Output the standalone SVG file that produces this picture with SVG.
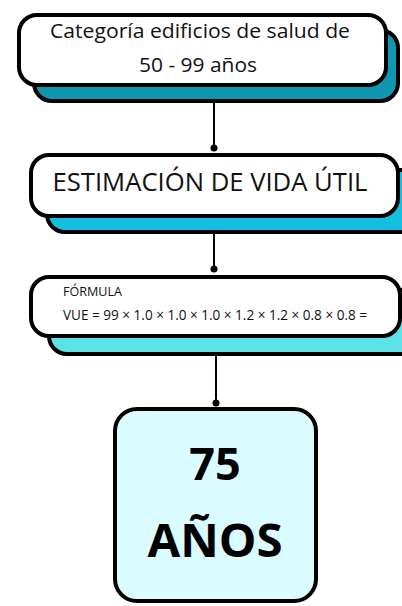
<svg xmlns="http://www.w3.org/2000/svg" width="402" height="606" viewBox="0 0 402 606">
<style>
.box{fill:#ffffff;stroke:#000;stroke-width:4}
.sh{stroke:#000;stroke-width:4}
.t{font-family:"Open Sans","Noto Sans",sans-serif;fill:#111}
.c{stroke:#000;stroke-width:2;fill:none}
</style>
<rect width="402" height="606" fill="#ffffff"/>
<g id="node1">
<rect class="sh" x="34" y="30" width="364" height="71" rx="18" fill="#0E97AE"/>
<rect class="box" x="19" y="15" width="367" height="70" rx="18"/>
<text class="t" x="200" y="38" font-size="20.5" text-anchor="middle" textLength="300" lengthAdjust="spacingAndGlyphs">Categoría edificios de salud de</text>
<text class="t" x="198" y="72" font-size="20.5" text-anchor="middle" textLength="118" lengthAdjust="spacingAndGlyphs">50 - 99 años</text>
</g>
<g id="node2">
<rect class="sh" x="47" y="170" width="380" height="62" rx="18" fill="#12BFDF"/>
<rect class="box" x="31" y="155" width="367" height="61" rx="18"/>
<text class="t" x="210" y="191" font-size="25.5" text-anchor="middle" textLength="315" lengthAdjust="spacingAndGlyphs">ESTIMACIÓN DE VIDA ÚTIL</text>
</g>
<g id="node3">
<rect class="sh" x="49" y="290" width="380" height="64" rx="18" fill="#5CE1E6"/>
<rect class="box" x="31" y="277" width="369" height="59" rx="18"/>
<text class="t" x="63" y="296" font-size="12.5" textLength="59" lengthAdjust="spacingAndGlyphs">FÓRMULA</text>
<text class="t" x="63" y="320" font-size="14.5" textLength="304" lengthAdjust="spacingAndGlyphs">VUE = 99 × 1.0 × 1.0 × 1.0 × 1.2 × 1.2 × 0.8 × 0.8 =</text>
</g>
<g id="node4">
<rect class="box" x="115" y="409" width="201" height="192" rx="22" style="fill:#DAFBFF"/>
<text class="t" x="215" y="480" font-size="45" font-weight="bold" text-anchor="middle" style="fill:#000">75</text>
<text class="t" x="215" y="557" font-size="46" font-weight="bold" text-anchor="middle" textLength="135" lengthAdjust="spacingAndGlyphs" style="fill:#000">AÑOS</text>
</g>
<g id="connectors">
<line class="c" x1="214" y1="103" x2="214" y2="148"/>
<circle cx="214" cy="148" r="3.5" fill="#000"/>
<line class="c" x1="214" y1="234" x2="214" y2="269"/>
<circle cx="214" cy="269" r="3.5" fill="#000"/>
<line class="c" x1="216" y1="356" x2="216" y2="403"/>
<circle cx="216" cy="403" r="3.5" fill="#000"/>
</g>
</svg>
